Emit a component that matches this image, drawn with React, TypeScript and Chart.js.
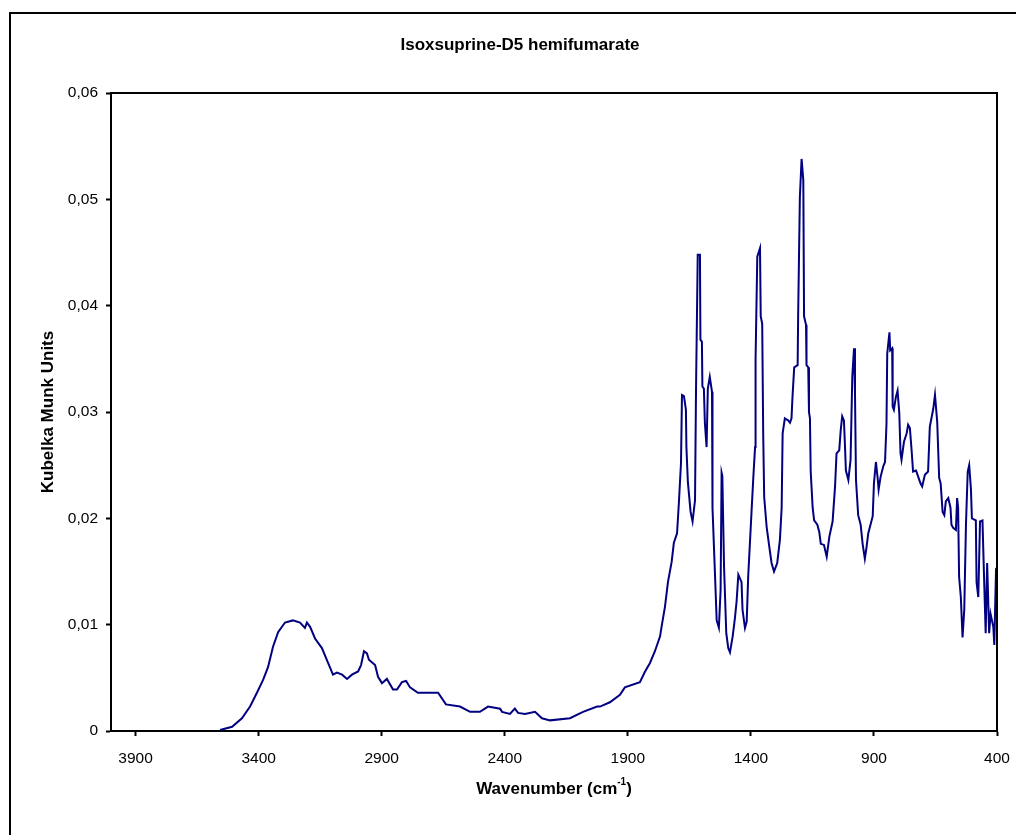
import React, { useEffect, useRef } from "react";
import { Chart, registerables } from "chart.js";

Chart.register(...registerables);

const chartTitle = "Isoxsuprine-D5 hemifumarate";
const yAxisTitle = "Kubelka Munk Units";
const xAxisTitleMain = "Wavenumber (cm";
const xAxisTitleSup = "-1";
const xAxisTitleEnd = ")";

const xTickValues = [3900, 3400, 2900, 2400, 1900, 1400, 900, 400];

const wavenumbers = [
  3557, 3508, 3468, 3435, 3407, 3382, 3362, 3342, 3321, 3293, 3277, 3261, 3232, 3212, 3204, 3191,
  3171, 3143, 3118, 3098, 3082, 3061, 3041, 3021, 2996, 2984, 2972, 2960, 2952, 2927, 2915, 2899,
  2879, 2854, 2838, 2818, 2801, 2785, 2753, 2671, 2639, 2582, 2541, 2501, 2468, 2419, 2411, 2379,
  2359, 2346, 2318, 2277, 2249, 2216, 2135, 2082, 2025, 2013, 1973, 1932, 1912, 1851, 1830, 1810,
  1790, 1769, 1763, 1749, 1737, 1722, 1713, 1700, 1692, 1684, 1680, 1672, 1664, 1662, 1656, 1645,
  1637, 1627, 1623, 1616, 1607, 1605, 1599, 1597, 1591, 1587, 1580, 1575, 1567, 1558, 1556, 1546,
  1539, 1530, 1523, 1519, 1516, 1509, 1500, 1492, 1485, 1474, 1465, 1458, 1451, 1438, 1434, 1424,
  1417, 1411, 1397, 1390, 1383, 1381, 1374, 1363, 1360, 1354, 1350, 1346, 1336, 1325, 1316, 1306,
  1293, 1282, 1275, 1271, 1262, 1248, 1241, 1235, 1231, 1224, 1210, 1208, 1201, 1194, 1187, 1184,
  1176, 1174, 1167, 1164, 1160, 1157, 1149, 1143, 1130, 1122, 1116, 1103, 1092, 1081, 1068, 1058,
  1052, 1041, 1035, 1029, 1022, 1018, 1014, 1004, 995, 988, 981, 977, 973, 964, 954, 946,
  937, 930, 923, 914, 905, 900, 892, 885, 881, 873, 862, 855, 849, 846, 837, 834,
  826, 824, 819, 811, 804, 797, 792, 788, 778, 767, 761, 754, 747, 741, 729, 720,
  711, 704, 693, 680, 673, 659, 652, 643, 635, 629, 621, 614, 608, 598, 589, 585,
  578, 567, 562, 558, 554, 547, 540, 533, 526, 519, 513, 506, 502, 486, 483, 476,
  469, 459, 453, 446, 440, 432, 426, 415, 411, 404, 401,
];

const kubelkaMunk = [
  0.0001, 0.0004, 0.0012, 0.0023, 0.0036, 0.0048, 0.006, 0.0079, 0.0093, 0.0102, 0.0103, 0.0104, 0.0102, 0.0097, 0.0102, 0.0098,
  0.0087, 0.0078, 0.0064, 0.0053, 0.0055, 0.0053, 0.0049, 0.0053, 0.0056, 0.0062, 0.0075, 0.0073, 0.0067, 0.0062, 0.0051, 0.0045,
  0.0049, 0.0039, 0.0039, 0.0046, 0.0047, 0.0041, 0.0036, 0.0036, 0.0025, 0.0023, 0.0018, 0.0018, 0.0023, 0.0021, 0.0018, 0.0016,
  0.0021, 0.0017, 0.0016, 0.0018, 0.0012, 0.001, 0.0012, 0.0018, 0.0023, 0.0023, 0.0027, 0.0034, 0.0041, 0.0046, 0.0056, 0.0064,
  0.0075, 0.0089, 0.0098, 0.0117, 0.014, 0.0159, 0.0177, 0.0186, 0.0217, 0.0252, 0.0316, 0.0315, 0.0302, 0.0267, 0.0234, 0.0206,
  0.0197, 0.0217, 0.032, 0.0448, 0.0448, 0.0368, 0.0366, 0.0324, 0.0322, 0.029, 0.0267, 0.0322, 0.0333, 0.0319, 0.021, 0.0148,
  0.0104, 0.0097, 0.0133, 0.0243, 0.024, 0.0154, 0.0092, 0.0078, 0.0074, 0.0089, 0.0106, 0.0122, 0.0147, 0.014, 0.0114, 0.0097,
  0.0103, 0.0145, 0.0208, 0.0239, 0.0267, 0.0349, 0.0446, 0.0454, 0.039, 0.0383, 0.028, 0.022, 0.0192, 0.0173, 0.0158, 0.015,
  0.0158, 0.018, 0.021, 0.028, 0.0294, 0.0292, 0.029, 0.0294, 0.0314, 0.0342, 0.0344, 0.039, 0.0502, 0.0538, 0.0518, 0.039,
  0.0382, 0.0344, 0.0342, 0.03, 0.0294, 0.0244, 0.021, 0.0198, 0.0194, 0.0187, 0.0176, 0.0175, 0.0164, 0.0183, 0.0197, 0.023,
  0.0261, 0.0264, 0.0283, 0.0296, 0.0292, 0.027, 0.0245, 0.0236, 0.0255, 0.0333, 0.036, 0.0318, 0.0236, 0.0203, 0.0194, 0.0176,
  0.0162, 0.0173, 0.0186, 0.0194, 0.0202, 0.0233, 0.0253, 0.0238, 0.0227, 0.0239, 0.0249, 0.0253, 0.0289, 0.0355, 0.0375, 0.0358,
  0.036, 0.0305, 0.0302, 0.0314, 0.032, 0.0299, 0.0261, 0.0255, 0.0272, 0.028, 0.0288, 0.0285, 0.0264, 0.0244, 0.0245, 0.0239,
  0.0233, 0.023, 0.0241, 0.0244, 0.0286, 0.0303, 0.0316, 0.0291, 0.0238, 0.0233, 0.0206, 0.0203, 0.0216, 0.0219, 0.021, 0.0194,
  0.0191, 0.0189, 0.0219, 0.021, 0.0145, 0.0126, 0.0088, 0.0114, 0.0195, 0.0244, 0.025, 0.0228, 0.02, 0.0198, 0.014, 0.0126,
  0.0197, 0.0198, 0.0148, 0.0092, 0.0158, 0.0092, 0.011, 0.0098, 0.0081, 0.0151, 0.015,
];

const FONT = "'Liberation Sans', Arial, Helvetica, sans-serif";

const decorPlugin = {
  id: "decor",
  afterDraw(chart: any) {
    const { ctx, chartArea } = chart;
    ctx.save();
    // outer frame (left and top edges visible)
    ctx.strokeStyle = "#000";
    ctx.lineWidth = 2;
    ctx.beginPath();
    ctx.moveTo(10, 900);
    ctx.lineTo(10, 13);
    ctx.lineTo(1100, 13);
    ctx.stroke();
    // plot area top and right border
    ctx.beginPath();
    ctx.moveTo(chartArea.left, chartArea.top);
    ctx.lineTo(chartArea.right, chartArea.top);
    ctx.lineTo(chartArea.right, chartArea.bottom);
    ctx.stroke();

    ctx.fillStyle = "#000";
    // title
    ctx.font = `bold 17px ${FONT}`;
    ctx.textAlign = "center";
    ctx.textBaseline = "middle";
    ctx.fillText(chartTitle, 520, 45);

    // y axis title
    ctx.save();
    ctx.translate(48, (chartArea.top + chartArea.bottom) / 2);
    ctx.rotate(-Math.PI / 2);
    ctx.font = `bold 17px ${FONT}`;
    ctx.fillText(yAxisTitle, 0, 0);
    ctx.restore();

    // x axis title with superscript
    const cx = (chartArea.left + chartArea.right) / 2;
    const cy = 789;
    ctx.font = `bold 17px ${FONT}`;
    const w1 = ctx.measureText(xAxisTitleMain).width;
    const w3 = ctx.measureText(xAxisTitleEnd).width;
    ctx.font = `bold 10px ${FONT}`;
    const w2 = ctx.measureText(xAxisTitleSup).width;
    const total = w1 + w2 + w3;
    let x0 = cx - total / 2;
    ctx.textAlign = "left";
    ctx.font = `bold 17px ${FONT}`;
    ctx.fillText(xAxisTitleMain, x0, cy);
    ctx.font = `bold 10px ${FONT}`;
    ctx.fillText(xAxisTitleSup, x0 + w1, cy - 7);
    ctx.font = `bold 17px ${FONT}`;
    ctx.fillText(xAxisTitleEnd, x0 + w1 + w2, cy);
    ctx.restore();
  },
};

export default function App() {
  const canvasRef = useRef<HTMLCanvasElement | null>(null);

  useEffect(() => {
    if (!canvasRef.current) return;
    const points = wavenumbers.map((w, i) => ({ x: w, y: kubelkaMunk[i] }));
    const chart = new Chart(canvasRef.current, {
      type: "line",
      data: {
        datasets: [
          {
            data: points,
            borderColor: "#000080",
            borderWidth: 2,
            pointRadius: 0,
            tension: 0,
            fill: false,
          },
        ],
      },
      plugins: [decorPlugin],
      options: {
        animation: false,
        responsive: false,
        devicePixelRatio: 1,
        layout: { padding: { left: 0, top: 93, right: 19, bottom: 0 } },
        plugins: {
          legend: { display: false },
          title: { display: false },
          tooltip: { enabled: false },
        },
        scales: {
          x: {
            type: "linear",
            reverse: true,
            min: 400,
            max: 4000,
            afterBuildTicks: (scale: any) => {
              scale.ticks = xTickValues.map((v) => ({ value: v }));
            },
            afterFit: (scale: any) => {
              scale.height = 104;
              scale.paddingLeft = 0;
              scale.paddingRight = 0;
            },
            ticks: {
              color: "#000",
              font: { family: FONT, size: 15.5 },
              padding: 13,
              maxRotation: 0,
              autoSkip: false,
              callback: (v: any) => String(v),
            },
            grid: {
              display: true,
              drawOnChartArea: false,
              drawTicks: true,
              tickLength: 5,
              tickWidth: 2,
              color: "#000",
            },
            border: { display: true, color: "#000", width: 2 },
          },
          y: {
            type: "linear",
            min: 0,
            max: 0.06,
            afterFit: (scale: any) => {
              scale.width = 111;
              scale.paddingTop = 0;
              scale.paddingBottom = 0;
            },
            ticks: {
              stepSize: 0.01,
              color: "#000",
              font: { family: FONT, size: 15.5 },
              padding: 8,
              callback: (v: any) => (Math.abs(v) < 1e-9 ? "0" : Number(v).toFixed(2).replace(".", ",")),
            },
            grid: {
              display: true,
              drawOnChartArea: false,
              drawTicks: true,
              tickLength: 5,
              tickWidth: 2,
              color: "#000",
            },
            border: { display: true, color: "#000", width: 2 },
          },
        },
      },
    });
    return () => chart.destroy();
  }, []);

  return (
    <div style={{ position: "fixed", left: 0, top: 0, width: 1016, height: 835, background: "#fff" }}>
      <canvas ref={canvasRef} width={1016} height={835} style={{ width: 1016, height: 835, display: "block" }} />
    </div>
  );
}
